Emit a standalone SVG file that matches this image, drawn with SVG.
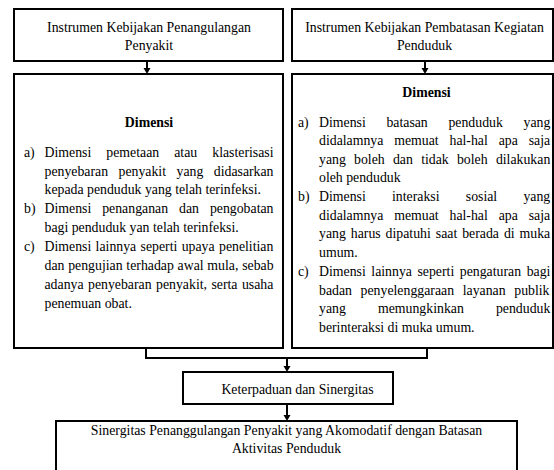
<svg xmlns="http://www.w3.org/2000/svg" width="554" height="470" viewBox="0 0 554 470">
<defs>
<style>
.bg{fill:#fff}
.box{fill:#fff;stroke:#000;stroke-width:2}
.conn{stroke:#000;stroke-width:2;fill:none}
.t{font-family:"Liberation Serif","Times New Roman",serif;font-size:13.8px;fill:#000}
.c{text-anchor:middle}
.b{font-weight:bold}
</style>
<marker id="ah" markerUnits="userSpaceOnUse" markerWidth="8" markerHeight="8" refX="0" refY="3.5" orient="auto">
<path d="M0,0 L6,3.5 L0,7 z" fill="#000"/>
</marker>
</defs>
<rect class="bg" x="0" y="0" width="554" height="470"/>

<g id="connectors">
<line class="conn" x1="147" y1="61" x2="147" y2="68" marker-end="url(#ah)"/>
<line class="conn" x1="425" y1="61" x2="425" y2="68" marker-end="url(#ah)"/>
<path class="conn" d="M146,348 V358 H427 V348"/>
<line class="conn" x1="287" y1="358" x2="287" y2="366" marker-end="url(#ah)"/>
<line class="conn" x1="287" y1="404" x2="287" y2="415" marker-end="url(#ah)"/>
</g>

<g id="node-instrumen-penyakit">
<rect class="box" x="14" y="9" width="269" height="52"/>
<text class="t c" x="149" y="31.5">Instrumen Kebijakan Penangulangan</text>
<text class="t c" x="149" y="50">Penyakit</text>
</g>

<g id="node-instrumen-penduduk">
<rect class="box" x="292" y="9" width="261" height="52"/>
<text class="t c" x="424.5" y="31.5">Instrumen Kebijakan Pembatasan Kegiatan</text>
<text class="t c" x="424.5" y="50">Penduduk</text>
</g>

<g id="node-dimensi-penyakit">
<rect class="box" x="14" y="74" width="269" height="274"/>
<text class="t c b" x="149" y="126.5">Dimensi</text>
<text class="t" x="24" y="156.5">a)</text>
<text class="t" x="44.5" y="156.5" style="word-spacing:11.6px">Dimensi pemetaan atau klasterisasi</text>
<text class="t" x="44.5" y="175.5" style="word-spacing:7px">penyebaran penyakit yang didasarkan</text>
<text class="t" x="44.5" y="194">kepada penduduk yang telah terinfeksi.</text>
<text class="t" x="24" y="212.5">b)</text>
<text class="t" x="44.5" y="212.5" style="word-spacing:7.5px">Dimensi penanganan dan pengobatan</text>
<text class="t" x="44.5" y="231.5">bagi penduduk yan telah terinfeksi.</text>
<text class="t" x="24" y="250.5">c)</text>
<text class="t" x="44.5" y="250.5" style="word-spacing:0.9px">Dimensi lainnya seperti upaya penelitian</text>
<text class="t" x="44.5" y="269.5" style="word-spacing:0.3px">dan pengujian terhadap awal mula, sebab</text>
<text class="t" x="44.5" y="289" style="word-spacing:1px">adanya penyebaran penyakit, serta usaha</text>
<text class="t" x="44.5" y="308">penemuan obat.</text>
</g>

<g id="node-dimensi-penduduk">
<rect class="box" x="292" y="74" width="261" height="274"/>
<text class="t c b" x="426.5" y="96.5">Dimensi</text>
<text class="t" x="298" y="126.5">a)</text>
<text class="t" x="319" y="126.5" style="word-spacing:17.2px">Dimensi batasan penduduk yang</text>
<text class="t" x="319" y="145" style="word-spacing:7.4px">didalamnya memuat hal-hal apa saja</text>
<text class="t" x="319" y="163.5" style="word-spacing:4.8px">yang boleh dan tidak boleh dilakukan</text>
<text class="t" x="319" y="182">oleh penduduk</text>
<text class="t" x="298" y="200.5">b)</text>
<text class="t" x="319" y="200.5" style="word-spacing:22.8px">Dimensi interaksi sosial yang</text>
<text class="t" x="319" y="219.5" style="word-spacing:7.4px">didalamnya memuat hal-hal apa saja</text>
<text class="t" x="319" y="238" style="word-spacing:1.5px">yang harus dipatuhi saat berada di muka</text>
<text class="t" x="319" y="257">umum.</text>
<text class="t" x="298" y="276">c)</text>
<text class="t" x="319" y="276" style="word-spacing:2.1px">Dimensi lainnya seperti pengaturan bagi</text>
<text class="t" x="319" y="294.5" style="word-spacing:5.2px">badan penyelenggaraan layanan publik</text>
<text class="t" x="319" y="313" style="word-spacing:28.7px">yang memungkinkan penduduk</text>
<text class="t" x="319" y="331.5">berinteraksi di muka umum.</text>
</g>

<g id="node-keterpaduan">
<rect class="box" x="183" y="372" width="210" height="32"/>
<text class="t c" x="297.5" y="394">Keterpaduan dan Sinergitas</text>
</g>

<g id="node-sinergitas">
<rect class="box" x="56" y="421" width="461" height="60"/>
<text class="t c" x="286.5" y="434.5">Sinergitas Penanggulangan Penyakit yang Akomodatif dengan Batasan</text>
<text class="t c" x="286.5" y="453">Aktivitas Penduduk</text>
</g>
</svg>
